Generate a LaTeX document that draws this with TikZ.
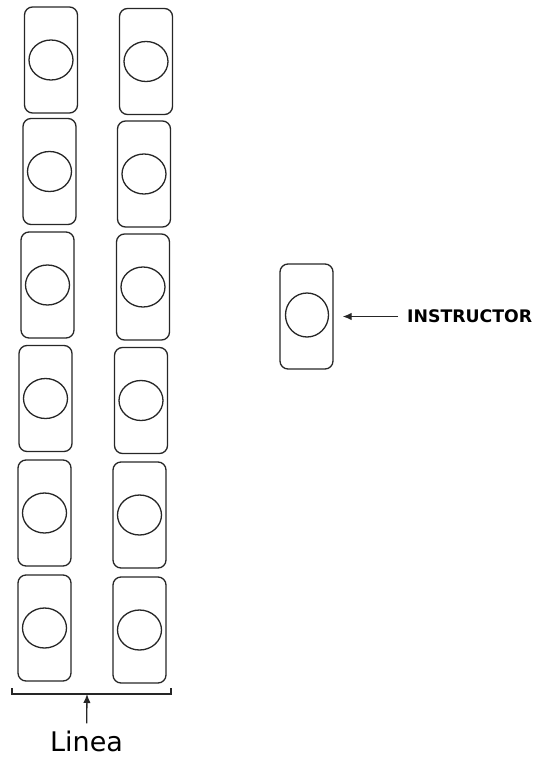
\documentclass[tikz,border=0pt]{standalone}
\usepackage{fontspec}
\usepackage{tikz}
\usetikzlibrary{arrows.meta}
\usetikzlibrary{shapes.geometric}
\newfontfamily\labelfont{DejaVu Sans}

\tikzset{
  seat/.style={draw=black!85, line width=1.3pt, rounded corners=8pt, minimum width=53pt, minimum height=106pt, inner sep=0pt},
  head/.style={draw=black!85, line width=1.3pt, ellipse, minimum width=44pt, minimum height=40pt, inner sep=0pt},
  pointer/.style={-{Latex[length=9pt,width=7.5pt]}, line width=1.3pt, draw=black!85}
}

\begin{document}
\begin{tikzpicture}[x=1pt, y=-1pt]
  \useasboundingbox (0,0) rectangle (537,758);

  \node [seat] (sL1) at (51,60) {};
  \node [head] (hL1) at (sL1) {};
  \node [seat] (sL2) at (49.5,171.5) {};
  \node [head] (hL2) at (sL2) {};
  \node [seat] (sL3) at (47.5,285) {};
  \node [head] (hL3) at (sL3) {};
  \node [seat] (sL4) at (45.5,398.5) {};
  \node [head] (hL4) at (sL4) {};
  \node [seat] (sL5) at (44.5,513) {};
  \node [head] (hL5) at (sL5) {};
  \node [seat] (sL6) at (44.5,628) {};
  \node [head] (hL6) at (sL6) {};

  \node [seat] (sR1) at (146,61.5) {};
  \node [head] (hR1) at (sR1) {};
  \node [seat] (sR2) at (144,174) {};
  \node [head] (hR2) at (sR2) {};
  \node [seat] (sR3) at (143,287) {};
  \node [head] (hR3) at (sR3) {};
  \node [seat] (sR4) at (141,400.5) {};
  \node [head] (hR4) at (sR4) {};
  \node [seat] (sR5) at (139.5,515) {};
  \node [head] (hR5) at (sR5) {};
  \node [seat] (sR6) at (139.5,630) {};
  \node [head] (hR6) at (sR6) {};

  \node [seat, minimum height=105pt] (prof) at (306.5,316.5) {};
  \node [head, minimum width=43pt, minimum height=44pt] (hprof) at (307,315) {};
  \node [anchor=west, inner sep=0pt, font=\labelfont\bfseries\fontsize{17.3}{17}\selectfont] (instr) at (407,316.5) {INSTRUCTOR};
  \draw [pointer, shorten <=9pt, shorten >=9pt] (instr) -- (prof);

  \draw [black!85, line width=1.3pt] (12,688) -- (12,694) -- (171,694) -- (171,688);
  \coordinate (brk) at (87,694);
  \node [anchor=base, inner sep=0pt, font=\labelfont\fontsize{27}{27}\selectfont] (linea) at (86.5,751) {Linea};
  \draw [pointer, shorten <=7pt] (linea) -- (brk);
\end{tikzpicture}
\end{document}
